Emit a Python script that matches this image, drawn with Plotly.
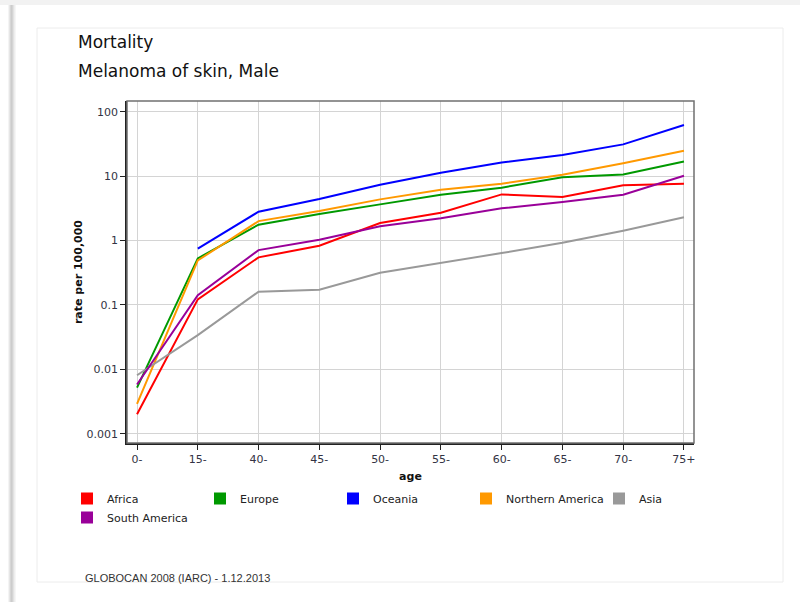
import plotly.graph_objects as go

# Age groups and male melanoma mortality rates (per 100,000) by region
age_groups = ["0-", "15-", "40-", "45-", "50-", "55-", "60-", "65-", "70-", "75+"]

africa = [0.0020, 0.122, 0.547, 0.83, 1.87, 2.70, 5.20, 4.73, 7.18, 7.62]
europe = [0.0052, 0.528, 1.76, 2.58, 3.64, 5.14, 6.61, 9.56, 10.6, 16.9]
oceania = [None, 0.746, 2.80, 4.41, 7.35, 11.3, 16.3, 21.2, 31.1, 62.1]
northern_america = [0.0029, 0.49, 2.00, 2.87, 4.35, 6.15, 7.62, 10.5, 15.8, 24.8]
asia = [0.0081, 0.034, 0.160, 0.172, 0.316, 0.447, 0.638, 0.925, 1.42, 2.29]
south_america = [0.0058, 0.142, 0.71, 1.03, 1.66, 2.21, 3.16, 3.95, 5.14, 10.1]

y_tick_values = [0.001, 0.01, 0.1, 1, 10, 100]
y_tick_labels = ["0.001", "0.01", "0.1", "1", "10", "100"]

series = [
    ("Africa", africa, "#ff0000"),
    ("Europe", europe, "#009900"),
    ("Oceania", oceania, "#0000ff"),
    ("Northern America", northern_america, "#ff9900"),
    ("Asia", asia, "#999999"),
    ("South America", south_america, "#990099"),
]

W, H = 800, 602
L, R, T, B = 127, 694, 101, 443  # plot area in pixels


def px(x):
    return (x - L) / (R - L)


def py(y):
    return (B - y) / (B - T)


fig = go.Figure()

for name, values, color in series:
    fig.add_trace(go.Scatter(
        x=age_groups, y=values, mode="lines", name=name,
        line=dict(color=color, width=2), legendgroup=name,
        showlegend=False, connectgaps=False,
    ))

# square swatches for the legend
for name, values, color in series:
    fig.add_trace(go.Scatter(
        x=[None], y=[None], mode="markers", name=name,
        marker=dict(symbol="square", size=12, color=color),
        legendgroup=name, showlegend=True,
    ))

shapes = []
# page frame: top band, left shadow, inner panel
shapes.append(dict(type="rect", xref="paper", yref="paper",
                   x0=px(0), x1=px(W), y0=py(0), y1=py(5),
                   fillcolor="#f2f2f2", line=dict(width=0), layer="below"))
for i, c in enumerate(["#f4f4f4", "#e6e6e6", "#d6d6d6", "#cccccc", "#d4d4d4",
                       "#e2e2e2", "#eeeeee", "#f6f6f6"]):
    shapes.append(dict(type="rect", xref="paper", yref="paper",
                       x0=px(8 + i), x1=px(9 + i), y0=py(5), y1=py(H),
                       fillcolor=c, line=dict(width=0), layer="below"))
shapes.append(dict(type="rect", xref="paper", yref="paper",
                   x0=px(37), x1=px(783), y0=py(28), y1=py(582),
                   fillcolor="rgba(0,0,0,0)", line=dict(color="#ececec", width=1),
                   layer="below"))
# plot border
shapes.append(dict(type="rect", xref="paper", yref="paper",
                   x0=0, x1=1, y0=0, y1=1,
                   line=dict(color="#707070", width=1.5)))

annotations = [
    dict(text="Mortality", xref="paper", yref="paper", x=px(76), y=py(42),
         xanchor="left", yanchor="middle", showarrow=False,
         font=dict(family="DejaVu Sans", size=17, color="#111111")),
    dict(text="Melanoma of skin, Male", xref="paper", yref="paper", x=px(76), y=py(71),
         xanchor="left", yanchor="middle", showarrow=False,
         font=dict(family="DejaVu Sans", size=17, color="#111111")),
    dict(text="GLOBOCAN 2008 (IARC) - 1.12.2013", xref="paper", yref="paper",
         x=px(83), y=py(578), xanchor="left", yanchor="middle", showarrow=False,
         font=dict(family="Liberation Sans", size=11, color="#333333")),
]

fig.update_layout(
    width=W, height=H,
    margin=dict(l=L, r=W - R, t=T, b=H - B),
    paper_bgcolor="#ffffff", plot_bgcolor="#ffffff",
    shapes=shapes, annotations=annotations,
    showlegend=True,
    legend=dict(
        orientation="h", x=px(67), y=py(484), xanchor="left", yanchor="top",
        entrywidth=88, entrywidthmode="pixels", traceorder="normal",
        font=dict(family="DejaVu Sans", size=11, color="#222222"),
        bgcolor="rgba(0,0,0,0)", itemclick=False, itemdoubleclick=False,
    ),
    xaxis=dict(
        type="category", range=[-0.165, 9.165],
        showgrid=True, gridcolor="#d4d4d4", gridwidth=1.2,
        showline=True, linecolor="#222222", linewidth=1.5,
        ticks="outside", ticklen=5, tickcolor="#222222",
        tickfont=dict(family="DejaVu Sans", size=11, color="#333344"),
        title=dict(text="<b>age</b>", standoff=7,
                   font=dict(family="DejaVu Sans", size=11, color="#111111")),
        zeroline=False,
    ),
    yaxis=dict(
        type="log", range=[-3.144, 2.166],
        tickvals=y_tick_values, ticktext=y_tick_labels,
        showgrid=True, gridcolor="#d4d4d4", gridwidth=1.2,
        showline=True, linecolor="#222222", linewidth=1.5,
        ticks="outside", ticklen=5, tickcolor="#222222",
        tickfont=dict(family="DejaVu Sans", size=11, color="#333344"),
        title=dict(text="<b>rate per 100,000</b>", standoff=2,
                   font=dict(family="DejaVu Sans", size=11, color="#111111")),
        zeroline=False,
    ),
)

fig.write_html("out.html")
